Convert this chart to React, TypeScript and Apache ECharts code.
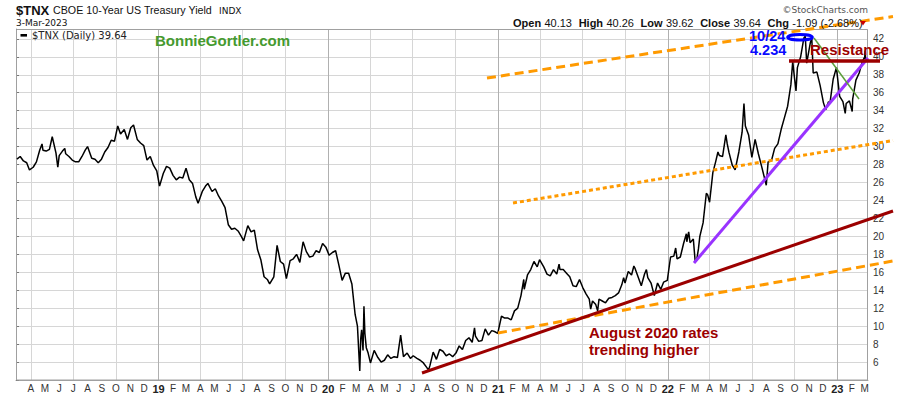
import React, { useEffect, useRef } from 'react';
import * as echarts from 'echarts';

const DAY = 86400000;
const START = Date.UTC(2018, 1, 28);
const END = Date.UTC(2023, 2, 8);
const dayOf = (s: string) => (Date.parse(s + 'T00:00:00Z') - START) / DAY;

// $TNX closes (x10), [MM-DD, value]
const tnx2018: [string, number][] = [
  ['03-02', 28.6], ['03-09', 28.9], ['03-16', 28.4], ['03-23', 28.2], ['03-29', 27.4], ['04-06', 27.7],
  ['04-13', 28.3], ['04-20', 29.6], ['04-25', 30.3], ['04-27', 29.6], ['05-04', 29.5], ['05-11', 29.7],
  ['05-17', 31.1], ['05-25', 29.3], ['05-29', 27.7], ['06-01', 29.0], ['06-08', 29.5], ['06-13', 29.8],
  ['06-15', 29.2], ['06-22', 28.9], ['06-29', 28.5], ['07-06', 28.3], ['07-13', 28.3], ['07-20', 28.9],
  ['07-27', 29.6], ['08-01', 30.0], ['08-10', 28.7], ['08-17', 28.6], ['08-24', 28.2], ['08-31', 28.6],
  ['09-07', 29.4], ['09-14', 29.9], ['09-21', 30.7], ['09-28', 30.6], ['10-05', 32.3], ['10-11', 31.4],
  ['10-19', 31.9], ['10-26', 30.8], ['11-02', 32.1], ['11-08', 32.4], ['11-16', 30.8], ['11-23', 30.4],
  ['11-30', 30.1], ['12-07', 28.5], ['12-14', 28.9], ['12-21', 27.9], ['12-28', 27.3],
];
const tnx2019: [string, number][] = [
  ['01-03', 25.6], ['01-11', 27.0], ['01-18', 27.8], ['01-25', 27.6], ['02-01', 26.8], ['02-08', 26.3],
  ['02-15', 26.6], ['02-22', 26.5], ['03-01', 27.6], ['03-08', 26.3], ['03-15', 25.9], ['03-22', 24.4],
  ['03-27', 23.7], ['04-05', 25.0], ['04-12', 25.6], ['04-17', 25.9], ['04-26', 25.0], ['05-03', 25.3],
  ['05-10', 24.5], ['05-17', 23.9], ['05-24', 23.2], ['05-31', 21.3], ['06-07', 20.8], ['06-14', 20.9],
  ['06-21', 20.6], ['06-28', 20.0], ['07-03', 19.5], ['07-12', 21.2], ['07-19', 20.5], ['07-26', 20.7],
  ['08-02', 18.5], ['08-09', 17.4], ['08-16', 15.5], ['08-23', 15.2], ['08-28', 14.7], ['09-06', 15.5],
  ['09-13', 19.0], ['09-20', 17.2], ['09-27', 16.9], ['10-03', 15.3], ['10-11', 17.3], ['10-18', 17.5],
  ['10-25', 18.0], ['11-01', 17.1], ['11-08', 19.4], ['11-15', 18.3], ['11-22', 17.7], ['11-29', 17.8],
  ['12-06', 18.4], ['12-13', 18.2], ['12-20', 19.2], ['12-27', 18.8],
];
const tnx2020: [string, number][] = [
  ['01-03', 17.9], ['01-10', 18.2], ['01-17', 18.4], ['01-24', 16.8], ['01-31', 15.1], ['02-07', 15.9],
  ['02-14', 15.9], ['02-21', 14.7], ['02-28', 11.3], ['03-04', 10.0], ['03-09', 5.0], ['03-11', 8.6],
  ['03-13', 9.6], ['03-16', 7.3], ['03-18', 12.2], ['03-20', 9.2], ['03-23', 7.6], ['03-27', 7.0],
  ['04-01', 5.9], ['04-09', 7.3], ['04-17', 6.5], ['04-24', 6.0], ['05-01', 6.2], ['05-08', 6.8],
  ['05-15', 6.4], ['05-22', 6.6], ['05-29', 6.5], ['06-05', 9.0], ['06-11', 6.6], ['06-19', 7.0],
  ['06-26', 6.4], ['07-02', 6.7], ['07-10', 6.4], ['07-17', 6.2], ['07-24', 5.9], ['07-31', 5.4],
  ['08-04', 5.1], ['08-07', 5.6], ['08-14', 7.1], ['08-21', 6.3], ['08-28', 7.4], ['09-04', 7.2],
  ['09-11', 6.7], ['09-18', 6.9], ['09-25', 6.6], ['10-02', 7.0], ['10-09', 7.8], ['10-16', 7.4],
  ['10-23', 8.4], ['10-30', 8.7], ['11-06', 8.2], ['11-11', 9.8], ['11-13', 8.9], ['11-20', 8.3],
  ['11-27', 8.4], ['12-04', 9.7], ['12-11', 9.0], ['12-18', 9.5], ['12-24', 9.4], ['12-31', 9.2],
];
const tnx2021: [string, number][] = [
  ['01-08', 11.1], ['01-15', 10.9], ['01-22', 10.9], ['01-29', 10.7], ['02-05', 11.7], ['02-12', 12.0],
  ['02-19', 13.4], ['02-25', 15.2], ['02-26', 14.1], ['03-05', 15.7], ['03-12', 16.3], ['03-19', 17.2],
  ['03-26', 16.6], ['03-31', 17.4], ['04-09', 16.6], ['04-16', 15.8], ['04-23', 15.6], ['04-30', 16.3],
  ['05-07', 15.8], ['05-12', 16.9], ['05-14', 16.3], ['05-21', 16.3], ['05-28', 15.9], ['06-04', 15.5],
  ['06-11', 14.5], ['06-18', 14.4], ['06-25', 15.2], ['07-02', 14.3], ['07-09', 13.6], ['07-16', 13.0],
  ['07-19', 11.9], ['07-23', 12.8], ['07-30', 12.4], ['08-03', 11.7], ['08-06', 13.0], ['08-13', 12.8],
  ['08-20', 12.6], ['08-27', 13.1], ['09-03', 13.2], ['09-10', 13.4], ['09-17', 13.7], ['09-24', 14.6],
  ['09-28', 15.4], ['10-01', 14.8], ['10-08', 16.1], ['10-15', 15.7], ['10-20', 16.7], ['10-22', 16.5],
  ['10-29', 15.5], ['11-05', 14.5], ['11-12', 15.8], ['11-16', 16.3], ['11-19', 15.4], ['11-26', 14.8],
  ['12-03', 13.4], ['12-10', 14.8], ['12-17', 14.1], ['12-23', 14.9], ['12-31', 15.1],
];
const tnx2022: [string, number][] = [
  ['01-07', 17.7], ['01-14', 17.8], ['01-18', 18.7], ['01-21', 17.5], ['01-28', 17.7], ['02-04', 19.2],
  ['02-10', 20.3], ['02-11', 19.4], ['02-15', 20.5], ['02-18', 19.3], ['02-25', 19.7], ['03-01', 17.2],
  ['03-04', 17.3], ['03-08', 18.6], ['03-11', 20.0], ['03-18', 21.5], ['03-25', 24.8], ['03-28', 24.6],
  ['04-01', 23.8], ['04-08', 27.1], ['04-14', 28.3], ['04-19', 29.4], ['04-22', 29.0], ['04-29', 28.9],
  ['05-06', 31.3], ['05-09', 30.3], ['05-13', 29.3], ['05-20', 27.9], ['05-26', 27.4], ['06-03', 29.4],
  ['06-10', 31.6], ['06-14', 34.8], ['06-17', 32.3], ['06-24', 31.3], ['07-01', 28.8], ['07-08', 30.8],
  ['07-15', 29.2], ['07-22', 27.8], ['08-01', 25.7], ['08-05', 28.3], ['08-12', 28.4], ['08-19', 29.8],
  ['08-26', 30.3], ['09-02', 31.9], ['09-09', 33.2], ['09-16', 34.5], ['09-23', 36.9], ['09-27', 39.5],
  ['09-30', 38.0], ['10-04', 36.2], ['10-07', 38.8], ['10-14', 40.0], ['10-21', 42.1], ['10-24', 42.3],
  ['10-27', 39.3], ['11-04', 41.6], ['11-07', 42.1], ['11-10', 38.2], ['11-18', 38.3], ['11-25', 36.8],
  ['12-02', 34.9], ['12-07', 34.1], ['12-13', 35.0], ['12-16', 34.8], ['12-23', 37.5], ['12-30', 38.8],
];
const tnx2023: [string, number][] = [
  ['01-06', 35.6], ['01-13', 35.0], ['01-18', 33.7], ['01-20', 34.8], ['01-27', 35.1], ['02-02', 33.9],
  ['02-03', 35.3], ['02-10', 37.4], ['02-17', 38.2], ['02-24', 39.5], ['03-01', 40.0], ['03-02', 40.7],
  ['03-03', 39.64],
];

const MONTH_LETTERS = ['J', 'F', 'M', 'A', 'M', 'J', 'J', 'A', 'S', 'O', 'N', 'D'];
const Y_MIN = 4;
const Y_MAX = 43.1;
const Y_STEP = 2;

const toSeries = (year: number, list: [string, number][]) =>
  list.map(([md, v]) => [dayOf(`${year}-${md}`), v]);

const seriesData = [
  ...toSeries(2018, tnx2018),
  ...toSeries(2019, tnx2019),
  ...toSeries(2020, tnx2020),
  ...toSeries(2021, tnx2021),
  ...toSeries(2022, tnx2022),
  ...toSeries(2023, tnx2023),
];

const FIRST_LABEL = Date.UTC(2018, 3, 1);
const monthStarts: number[] = [];
const quarterStarts: number[] = [];
const yearStarts: number[] = [];
for (let y = 2018; y <= 2023; y++) {
  for (let m = 0; m < 12; m++) {
    const t = Date.UTC(y, m, 1);
    if (t >= FIRST_LABEL && t < END) {
      const d = (t - START) / DAY;
      monthStarts.push(d);
      if (m === 0) yearStarts.push(d);
      else if (m % 3 === 0) quarterStarts.push(d);
    }
  }
}

const SANS = '"Liberation Sans", Arial, sans-serif';
const VERD = '"DejaVu Sans", Verdana, sans-serif';
const ORANGE = '#ff9a00';
const DARKRED = '#9c0000';
const X_MAX = (END - START) / DAY;
const GRID_LIGHT = '#d6d6d6';
const GRID_YEAR = '#b0b0b0';
const FRAME = '#a0a0a0';

const line = (x1: number, y1: number, x2: number, y2: number, stroke: string, lineWidth: number, lineDash?: number[]) => ({
  type: 'line', z: 50, silent: true,
  shape: { x1, y1, x2, y2 },
  style: { stroke, lineWidth, lineDash, lineCap: 'butt' },
});
const text = (x: number, y: number, t: string, font: string, fill: string, align = 'left') => ({
  type: 'text', z: 60, silent: true, x, y,
  style: { text: t, font, fill, textAlign: align, textVerticalAlign: 'middle', align, verticalAlign: 'middle' },
});

const vAxis = (values: number[], color: string, withLabels: boolean) => ({
  type: 'value',
  min: 0,
  max: X_MAX,
  position: 'bottom',
  axisLine: { show: withLabels, lineStyle: { color: FRAME, width: 1 } },
  axisTick: { show: false, customValues: values },
  splitLine: { show: !withLabels, lineStyle: { color, width: 1, type: 'solid' } },
  axisLabel: withLabels
    ? {
        customValues: monthStarts,
        margin: 3,
        fontSize: 10,
        fontFamily: SANS,
        color: '#333',
        formatter: (v: number) => {
          const d = new Date(START + Math.round(v) * DAY);
          const m = d.getUTCMonth();
          return m === 0 ? `{y|${String(d.getUTCFullYear()).slice(2)}}` : MONTH_LETTERS[m];
        },
        rich: { y: { fontWeight: 'bold', fontSize: 11, fontFamily: SANS, color: '#222' } },
      }
    : { show: false },
});

export default function App() {
  const ref = useRef<HTMLDivElement>(null);
  useEffect(() => {
    if (!ref.current) return;
    const chart = echarts.init(ref.current, undefined, { renderer: 'svg' });
    chart.setOption({
      animation: false,
      backgroundColor: '#ffffff',
      grid: { left: 16, right: 32, top: 29, bottom: 16, show: false, containLabel: false },
      xAxis: [
        vAxis(monthStarts, 'rgba(0,0,0,0)', true),
        vAxis(quarterStarts, GRID_LIGHT, false),
        vAxis(yearStarts, GRID_YEAR, false),
      ],
      yAxis: {
        type: 'value',
        position: 'right',
        min: Y_MIN,
        max: Y_MAX,
        interval: Y_STEP,
        axisLine: { show: true, lineStyle: { color: FRAME, width: 1 } },
        axisTick: { show: true, length: 3, lineStyle: { color: '#777' } },
        splitLine: { show: true, lineStyle: { color: GRID_LIGHT, width: 1, type: 'solid' } },
        axisLabel: {
          margin: 5,
          fontSize: 10,
          fontFamily: SANS,
          color: '#333',
          formatter: (v: number) => (v >= 6 && v <= 42 && Math.abs(v % 2) < 1e-9 ? String(v) : ''),
        },
      },
      series: [
        {
          type: 'line',
          data: seriesData,
          showSymbol: false,
          z: 5,
          lineStyle: { color: '#000000', width: 1.5 },
        },
      ],
      graphic: [
        // plot frame
        { type: 'rect', z: 1, silent: true, shape: { x: 16.5, y: 29.5, width: 851, height: 350.5 }, style: { fill: 'none', stroke: FRAME, lineWidth: 1 } },
        // header
        text(16, 10, '$TNX', `bold 13px ${SANS}`, '#111'),
        text(53, 10, 'CBOE 10-Year US Treasury Yield', `10.7px ${SANS}`, '#111'),
        text(219, 10.5, 'INDX', `9px ${VERD}`, '#111'),
        text(16, 23, '3-Mar-2023', `9px ${VERD}`, '#111'),
        text(868, 9.5, '\u00a9StockCharts.com', `9px ${VERD}`, '#555', 'right'),
        {
          type: 'text', z: 60, silent: true, x: 513, y: 23,
          style: {
            text: '{b|Open} {r|40.13}  {b|High} {r|40.26}  {b|Low} {r|39.62}  {b|Close} {r|39.64}  {b|Chg} {r|-1.09 (-2.68%)}',
            textVerticalAlign: 'middle', verticalAlign: 'middle',
            rich: {
              b: { font: `bold 11px ${SANS}`, fill: '#111' },
              r: { font: `11px ${SANS}`, fill: '#111' },
            },
          },
        },
        { type: 'polygon', z: 60, silent: true, shape: { points: [[860, 21], [866, 21], [863, 25.5]] }, style: { fill: '#cc0000' } },
        // legend
        { type: 'rect', z: 60, silent: true, shape: { x: 20.5, y: 34, width: 6.5, height: 2.6 }, style: { fill: '#000' } },
        text(32, 35.5, '$TNX (Daily) 39.64', `10px ${VERD}`, '#222'),
        text(155, 40.5, 'BonnieGortler.com', `bold 15px ${SANS}`, '#459a2e'),
        // trend channels and lines
        line(487, 78, 893, 16.5, ORANGE, 3, [9, 5]),
        line(513, 203, 893, 140.5, ORANGE, 3, [4, 3]),
        line(498, 333, 893, 261, ORANGE, 3, [9, 5]),
        line(422, 373, 893, 211, DARKRED, 3),
        line(694, 263, 868, 58, '#9933ff', 3),
        line(814, 38, 859, 99, '#5c9e3c', 1.5),
        line(789, 61, 880, 61, DARKRED, 3.5),
        { type: 'ellipse', z: 55, silent: true, shape: { cx: 800, cy: 37.3, rx: 12.3, ry: 2.8 }, style: { stroke: '#0000ff', lineWidth: 3, fill: 'none' } },
        text(749, 35.5, '10/24', `bold 14.5px ${SANS}`, '#0a0aff'),
        text(750, 50, '4.234', `bold 14.5px ${SANS}`, '#0a0aff'),
        text(810, 49.5, 'Resistance', `bold 15px ${SANS}`, DARKRED),
        text(589, 332, 'August 2020 rates', `bold 15px ${SANS}`, DARKRED),
        text(589, 349.5, 'trending higher', `bold 15px ${SANS}`, DARKRED),
      ],
    });
    return () => chart.dispose();
  }, []);
  return <div ref={ref} style={{ width: 900, height: 396, position: 'absolute', left: 0, top: 0 }} />;
}
